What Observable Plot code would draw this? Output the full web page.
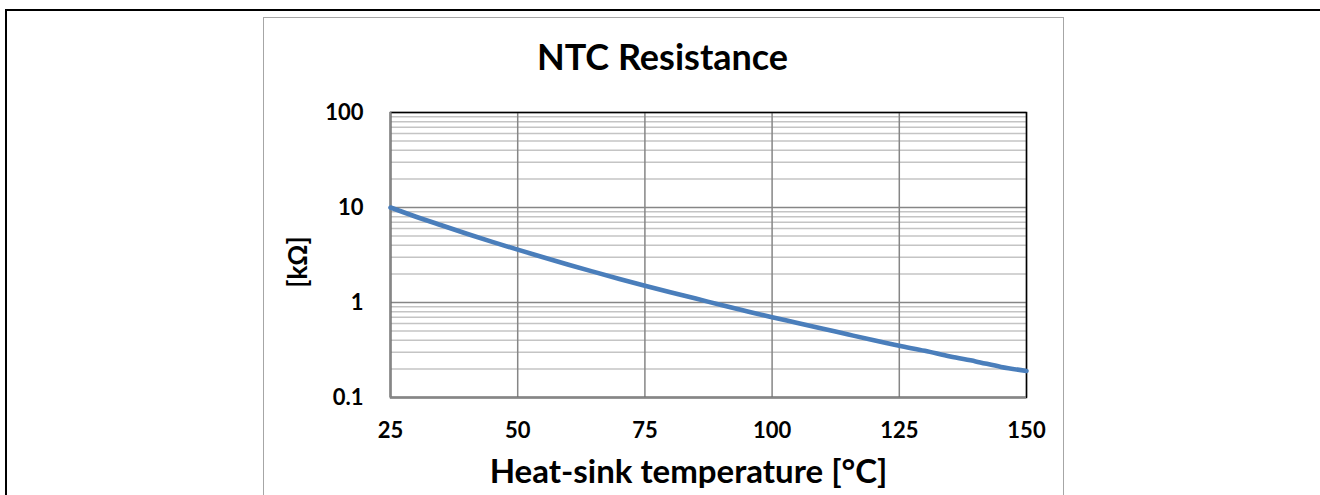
<!DOCTYPE html>
<html>
<head>
<meta charset="utf-8">
<script src="https://cdn.jsdelivr.net/npm/d3@7"></script>
<script src="https://cdn.jsdelivr.net/npm/@observablehq/plot@0.6"></script>
<style>
  html, body { margin: 0; padding: 0; background: #fff; width: 1320px; height: 495px; overflow: hidden; }
  #outer { position: absolute; left: 5px; top: 9px; width: 1400px; height: 600px; border: 2px solid #000; box-sizing: border-box; }
  #box { position: absolute; left: 263px; top: 17px; width: 801px; height: 600px; border: 1.5px solid #a6a6a6; box-sizing: border-box; background: #fff; }
  #chart { position: absolute; left: 264px; top: 18px; }
</style>
</head>
<body>
<div id="outer"></div>
<div id="box"></div>
<div id="chart"></div>
<script>
// Data
const temperature = [25, 30, 35, 40, 45, 50, 55, 60, 65, 70, 75, 80, 85, 90, 95, 100, 105, 110, 115, 120, 125, 130, 135, 140, 145, 150];
const resistance  = [10, 8.0, 6.5, 5.3, 4.35, 3.6, 3.0, 2.5, 2.1, 1.77, 1.5, 1.28, 1.1, 0.94, 0.81, 0.70, 0.61, 0.53, 0.46, 0.40, 0.35, 0.31, 0.27, 0.24, 0.21, 0.19];
const xTicks = [25, 50, 75, 100, 125, 150];
const yTicks = [0.1, 1, 10, 100];
const yTickLabels = ["0.1", "1", "10", "100"];
const title = "NTC Resistance";
const xLabel = "Heat-sink temperature [°C]";
const yLabel = "[kΩ]";

const data = temperature.map((t, i) => ({t, r: resistance[i]}));
const minorTicks = d3.scaleLog().domain([0.1, 100]).ticks().filter(v => !yTicks.includes(v));

const font = "Lato, 'Open Sans', sans-serif";

const chart = Plot.plot({
  width: 798,
  height: 477,
  marginLeft: 126,
  marginRight: 36,
  marginTop: 94,
  marginBottom: 98,
  style: { fontFamily: font, background: "transparent", overflow: "visible" },
  x: { domain: [25, 150], label: null },
  y: { type: "log", domain: [0.1, 100], label: null },
  marks: [
    Plot.gridY({ ticks: minorTicks, stroke: "#c4c4c4", strokeOpacity: 1, strokeWidth: 1.5 }),
    Plot.gridY({ ticks: yTicks, stroke: "#868686", strokeOpacity: 1, strokeWidth: 1.5 }),
    Plot.gridX({ ticks: xTicks, stroke: "#868686", strokeOpacity: 1, strokeWidth: 1.5 }),
    Plot.frame({ stroke: "#000", strokeWidth: 1.5 }),
    Plot.ruleX([25], { stroke: "#868686", strokeWidth: 2 }),
    Plot.ruleY([0.1], { stroke: "#868686", strokeWidth: 2 }),
    Plot.line(data, { x: "t", y: "r", stroke: "#4a7ebb", strokeWidth: 4.6, curve: "monotone-x" }),
    Plot.axisY({ ticks: yTicks, tickFormat: d => yTickLabels[yTicks.indexOf(d)], tickSize: 0, tickPadding: 27, fontSize: 22, fontWeight: "bold", fill: "#000" }),
    Plot.axisX({ ticks: xTicks, tickFormat: d => String(d), tickSize: 0, tickPadding: 25, fontSize: 22, fontWeight: "bold", fill: "#000" }),
    Plot.text([title], { frameAnchor: "top", dx: -46, dy: -54, fontSize: 36, fontWeight: "bold", fill: "#000", lineAnchor: "middle" }),
    Plot.text([xLabel], { frameAnchor: "bottom", dx: -20, dy: 75, fontSize: 33, fontWeight: "bold", fill: "#000", lineAnchor: "middle" }),
    Plot.text([yLabel], { frameAnchor: "left", textAnchor: "middle", dx: -92, dy: 7, rotate: -90, fontSize: 26, fontWeight: "bold", fill: "#000", lineAnchor: "middle" })
  ]
});
document.getElementById("chart").appendChild(chart);
</script>
</body>
</html>
